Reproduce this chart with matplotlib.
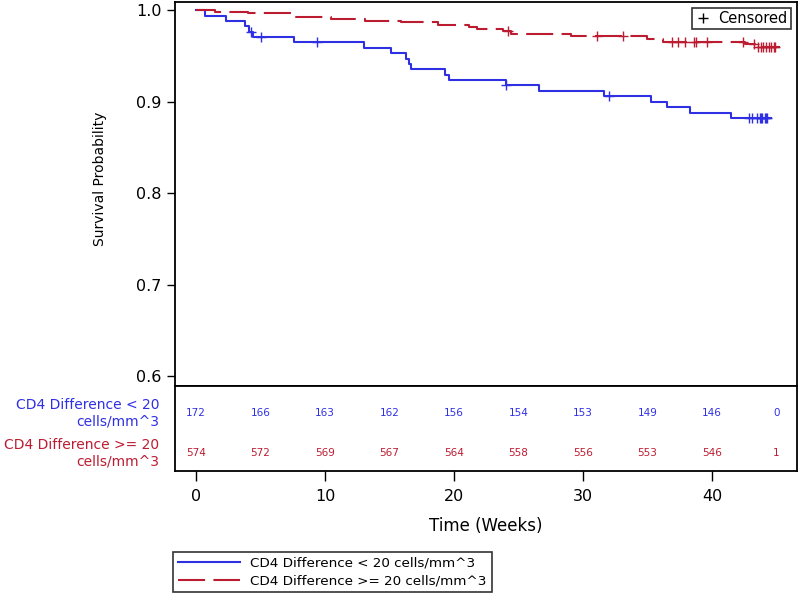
import numpy as np
from matplotlib import pyplot as plt
from matplotlib.lines import Line2D

# Kaplan-Meier steps
blue_time = [0, 0.7, 2.3, 3.8, 4.1, 4.4, 7.6, 13.0, 15.1, 16.3, 16.5, 16.7,
             19.3, 19.6, 24.0, 26.6, 31.6, 35.3, 36.5, 38.3, 41.5]
blue_surv = [1.0, 0.9942, 0.9884, 0.9826, 0.9767, 0.9709, 0.9651, 0.9591,
             0.9532, 0.9472, 0.9413, 0.9353, 0.9293, 0.9233, 0.9178, 0.9118,
             0.9058, 0.8998, 0.8937, 0.8878, 0.8817]
blue_end = 44.6
blue_cens = [4.3, 5.0, 9.4, 24.0, 32.0, 42.9, 43.1, 43.5, 43.7, 43.8, 43.9,
             44.1, 44.2, 44.3]

red_time = [0, 1.5, 4.0, 7.4, 7.7, 10.5, 13.1, 15.9, 18.8, 21.2, 21.8, 23.8,
            24.4, 29.1, 35.0, 36.2, 42.6, 43.5]
red_surv = [1.0, 0.9981, 0.9967, 0.9947, 0.9928, 0.9902, 0.9884, 0.9866,
            0.9836, 0.9814, 0.9794, 0.9770, 0.9745, 0.9716, 0.9680, 0.9654,
            0.9632, 0.9599]
red_end = 45.3
red_cens = [24.2, 31.1, 33.1, 36.9, 37.4, 37.9, 38.6, 38.8, 39.6, 42.4, 43.3,
            43.6, 43.8, 44.0, 44.2, 44.4, 44.6, 44.8, 44.9]

risk_times = [0, 5, 10, 15, 20, 25, 30, 35, 40, 45]
blue_risk = [172, 166, 163, 162, 156, 154, 153, 149, 146, 0]
red_risk = [574, 572, 569, 567, 564, 558, 556, 553, 546, 1]

blue_label = "CD4 Difference < 20 cells/mm^3"
red_label = "CD4 Difference >= 20 cells/mm^3"
blue_row = "CD4 Difference < 20\ncells/mm^3"
red_row = "CD4 Difference >= 20\ncells/mm^3"

BLUE = '#2F2FE4'
RED = '#BC1C32'

fig = plt.figure(figsize=(8, 5.96), dpi=100)
ax = fig.add_axes([175 / 800, 1 - 386 / 596, 622 / 800, 384 / 596])
tab = fig.add_axes([175 / 800, 1 - 471 / 596, 622 / 800, 85 / 596], sharex=ax)


def draw_curve(times, surv, end, cens, color, **kw):
    t = list(times) + [end]
    s = list(surv) + [surv[-1]]
    line, = ax.step(t, s, where='post', color=color, lw=1.5, **kw)
    idx = np.searchsorted(times, cens, side='right') - 1
    ax.plot(cens, np.array(surv)[idx], ls='none', marker='+', ms=7,
            mew=1.0, color=color)
    return line


hb = draw_curve(blue_time, blue_surv, blue_end, blue_cens, BLUE)
hr = draw_curve(red_time, red_surv, red_end, red_cens, RED, dashes=(13, 4))

ax.set_xlim(-1.63, 46.6)
ax.set_ylim(0.589, 1.009)
ax.set_yticks([0.6, 0.7, 0.8, 0.9, 1.0])
ax.set_yticklabels(['0.6', '0.7', '0.8', '0.9', '1.0'])
ax.tick_params(axis='y', direction='out', length=6, width=1, labelsize=11.5)
ax.tick_params(axis='x', bottom=False, labelbottom=False)
ax.set_ylabel("Survival Probability", fontsize=10)
ax.yaxis.set_label_coords(-0.109, 0.54)
for sp in ax.spines.values():
    sp.set_linewidth(1.3)

cens_handle = Line2D([], [], ls='none', marker='+', ms=7, mew=1, color='black')
leg = ax.legend([cens_handle], ['Censored'], loc='upper right', fontsize=10.5,
                frameon=True, fancybox=False, borderpad=0.2, handlelength=1.0,
                handletextpad=0.6, borderaxespad=0.3, bbox_to_anchor=(0.997, 0.995))
leg.get_frame().set_edgecolor('black')
leg.get_frame().set_linewidth(1.2)

# risk table
tab.set_ylim(0, 1)
for t, b, r in zip(risk_times, blue_risk, red_risk):
    tab.text(t, 0.68, str(b), color=BLUE, fontsize=7.5, ha='center', va='center')
    tab.text(t, 0.21, str(r), color=RED, fontsize=7.5, ha='center', va='center')
tab.text(-0.025, 0.68, blue_row, color=BLUE, fontsize=10, ha='right',
         va='center', multialignment='right', transform=tab.transAxes,
         linespacing=1.2)
tab.text(-0.025, 0.21, red_row, color=RED, fontsize=10, ha='right',
         va='center', multialignment='right', transform=tab.transAxes,
         linespacing=1.2)
tab.set_yticks([])
tab.set_xticks([0, 10, 20, 30, 40])
tab.tick_params(axis='x', direction='out', length=7, width=1, labelsize=11.5, pad=6)
tab.set_xlabel("Time (Weeks)", fontsize=12, labelpad=9)
for sp in tab.spines.values():
    sp.set_linewidth(1.3)

lg = fig.legend([hb, hr], [blue_label, red_label], loc='upper left',
                bbox_to_anchor=(173 / 800, 1 - 552 / 596), fontsize=9.7,
                frameon=True, fancybox=False, borderpad=0.35, labelspacing=0.35,
                handlelength=4.6, handletextpad=0.8, borderaxespad=0)
lg.get_frame().set_edgecolor('black')
lg.get_frame().set_linewidth(1.2)

fig.savefig('out.png', dpi=100)
